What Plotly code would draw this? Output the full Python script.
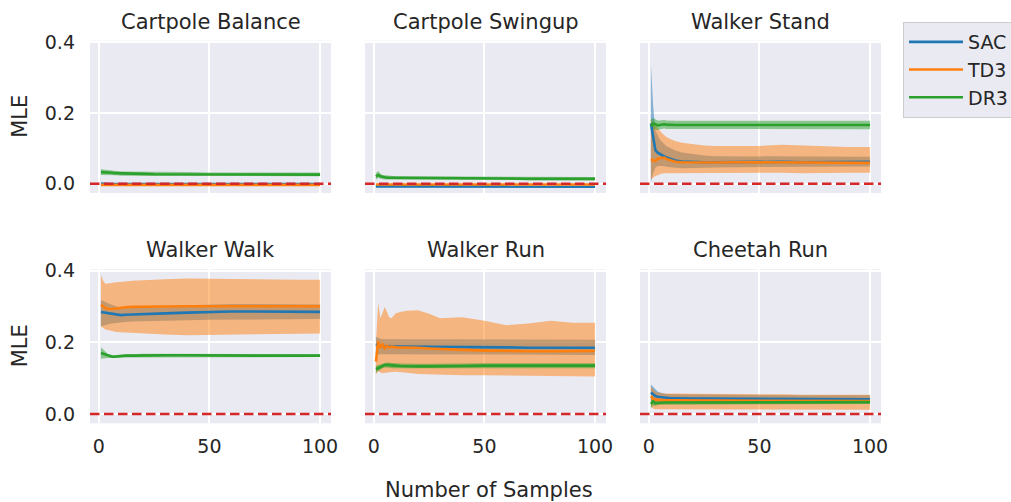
import plotly.graph_objects as go

# ---------------- data ----------------
X = [1, 2, 3, 4, 5, 6, 7, 8, 10, 12, 15, 20, 25, 30, 40, 50, 60, 70, 80, 90, 100]
TITLES = ["Cartpole Balance", "Cartpole Swingup", "Walker Stand",
          "Walker Walk", "Walker Run", "Cheetah Run"]
ALGOS = ["SAC", "TD3", "DR3"]
X_TICKS = [0, 50, 100]
Y_TICKS = [0.0, 0.2, 0.4]
Y_TICK_TEXT = ["0.0", "0.2", "0.4"]
REF_LEVEL = 0.0

# Cartpole Balance
cb_sac_mean = [0.000, -0.001, -0.001, -0.001, -0.001, -0.001, -0.001, -0.001, -0.001, -0.001, -0.001, -0.001, -0.001, -0.001, -0.001, -0.001, -0.001, -0.001, -0.001, -0.001, -0.001]
cb_sac_lo = [-0.004, -0.004, -0.004, -0.004, -0.004, -0.004, -0.004, -0.004, -0.004, -0.004, -0.004, -0.004, -0.004, -0.004, -0.004, -0.004, -0.004, -0.004, -0.004, -0.004, -0.004]
cb_sac_hi = [0.004, 0.003, 0.003, 0.003, 0.002, 0.002, 0.002, 0.002, 0.002, 0.002, 0.002, 0.002, 0.002, 0.002, 0.002, 0.002, 0.002, 0.002, 0.002, 0.002, 0.002]
cb_td3_mean = [-0.003, -0.003, -0.003, -0.003, -0.003, -0.003, -0.003, -0.003, -0.003, -0.003, -0.003, -0.003, -0.003, -0.003, -0.003, -0.003, -0.003, -0.003, -0.003, -0.003, -0.003]
cb_td3_lo = [-0.004, -0.004, -0.004, -0.004, -0.004, -0.004, -0.004, -0.004, -0.004, -0.004, -0.004, -0.004, -0.004, -0.004, -0.004, -0.004, -0.004, -0.004, -0.004, -0.004, -0.004]
cb_td3_hi = [-0.002, -0.002, -0.002, -0.002, -0.002, -0.002, -0.002, -0.002, -0.002, -0.002, -0.002, -0.002, -0.002, -0.002, -0.002, -0.002, -0.002, -0.002, -0.002, -0.002, -0.002]
cb_dr3_mean = [0.033, 0.033, 0.032, 0.032, 0.031, 0.031, 0.030, 0.030, 0.029, 0.029, 0.028, 0.028, 0.027, 0.027, 0.027, 0.027, 0.026, 0.026, 0.026, 0.026, 0.026]
cb_dr3_lo = [0.025, 0.026, 0.026, 0.026, 0.025, 0.025, 0.024, 0.024, 0.023, 0.023, 0.022, 0.022, 0.022, 0.022, 0.022, 0.022, 0.021, 0.021, 0.021, 0.021, 0.021]
cb_dr3_hi = [0.041, 0.040, 0.039, 0.038, 0.037, 0.037, 0.036, 0.036, 0.035, 0.035, 0.034, 0.034, 0.033, 0.033, 0.033, 0.032, 0.032, 0.032, 0.032, 0.032, 0.032]

# Cartpole Swingup
cs_sac_mean = [-0.007, -0.007, -0.008, -0.008, -0.008, -0.008, -0.008, -0.008, -0.008, -0.008, -0.008, -0.008, -0.008, -0.008, -0.008, -0.008, -0.008, -0.008, -0.008, -0.008, -0.008]
cs_sac_lo = [-0.012, -0.012, -0.012, -0.012, -0.012, -0.012, -0.012, -0.012, -0.012, -0.012, -0.012, -0.012, -0.012, -0.012, -0.012, -0.012, -0.012, -0.012, -0.012, -0.012, -0.012]
cs_sac_hi = [-0.002, -0.003, -0.004, -0.004, -0.004, -0.004, -0.004, -0.004, -0.004, -0.004, -0.004, -0.004, -0.004, -0.004, -0.004, -0.004, -0.004, -0.004, -0.004, -0.004, -0.004]
cs_td3_mean = [-0.002, -0.002, -0.002, -0.002, -0.002, -0.002, -0.002, -0.002, -0.002, -0.002, -0.002, -0.002, -0.002, -0.002, -0.002, -0.002, -0.002, -0.002, -0.002, -0.002, -0.002]
cs_td3_lo = [-0.003, -0.003, -0.003, -0.003, -0.003, -0.003, -0.003, -0.003, -0.003, -0.003, -0.003, -0.003, -0.003, -0.003, -0.003, -0.003, -0.003, -0.003, -0.003, -0.003, -0.003]
cs_td3_hi = [-0.001, -0.001, -0.001, -0.001, -0.001, -0.001, -0.001, -0.001, -0.001, -0.001, -0.001, -0.001, -0.001, -0.001, -0.001, -0.001, -0.001, -0.001, -0.001, -0.001, -0.001]
cs_dr3_mean = [0.021, 0.025, 0.021, 0.019, 0.018, 0.017, 0.017, 0.017, 0.016, 0.016, 0.016, 0.016, 0.015, 0.015, 0.015, 0.015, 0.015, 0.014, 0.014, 0.014, 0.014]
cs_dr3_lo = [0.012, 0.016, 0.014, 0.013, 0.012, 0.012, 0.012, 0.012, 0.011, 0.011, 0.011, 0.011, 0.010, 0.010, 0.010, 0.010, 0.010, 0.010, 0.010, 0.010, 0.010]
cs_dr3_hi = [0.030, 0.036, 0.029, 0.025, 0.024, 0.023, 0.022, 0.022, 0.021, 0.021, 0.021, 0.021, 0.020, 0.020, 0.020, 0.020, 0.020, 0.019, 0.019, 0.019, 0.019]

# Walker Stand
ws_sac_mean = [0.170, 0.125, 0.095, 0.088, 0.084, 0.080, 0.077, 0.074, 0.070, 0.066, 0.063, 0.061, 0.061, 0.061, 0.062, 0.062, 0.062, 0.061, 0.061, 0.062, 0.062]
ws_sac_lo = [0.005, 0.030, 0.045, 0.050, 0.052, 0.050, 0.050, 0.048, 0.046, 0.045, 0.044, 0.044, 0.045, 0.046, 0.047, 0.048, 0.048, 0.048, 0.048, 0.049, 0.049]
ws_sac_hi = [0.335, 0.220, 0.150, 0.135, 0.125, 0.118, 0.112, 0.106, 0.100, 0.094, 0.088, 0.083, 0.080, 0.078, 0.078, 0.077, 0.077, 0.076, 0.076, 0.076, 0.076]
ws_td3_mean = [0.070, 0.066, 0.065, 0.070, 0.072, 0.073, 0.074, 0.070, 0.065, 0.062, 0.061, 0.060, 0.060, 0.060, 0.061, 0.061, 0.060, 0.060, 0.059, 0.059, 0.059]
ws_td3_lo = [0.012, 0.018, 0.022, 0.025, 0.027, 0.029, 0.030, 0.031, 0.032, 0.032, 0.032, 0.031, 0.030, 0.030, 0.031, 0.031, 0.031, 0.030, 0.030, 0.031, 0.031]
ws_td3_hi = [0.180, 0.172, 0.165, 0.158, 0.150, 0.143, 0.137, 0.132, 0.126, 0.121, 0.116, 0.112, 0.108, 0.107, 0.106, 0.107, 0.110, 0.108, 0.105, 0.104, 0.104]
ws_dr3_mean = [0.163, 0.170, 0.168, 0.165, 0.166, 0.168, 0.168, 0.167, 0.166, 0.166, 0.166, 0.166, 0.166, 0.165, 0.165, 0.165, 0.166, 0.166, 0.166, 0.166, 0.166]
ws_dr3_lo = [0.148, 0.155, 0.154, 0.152, 0.154, 0.156, 0.156, 0.155, 0.154, 0.154, 0.154, 0.154, 0.154, 0.153, 0.153, 0.153, 0.154, 0.154, 0.154, 0.154, 0.154]
ws_dr3_hi = [0.182, 0.185, 0.182, 0.179, 0.179, 0.180, 0.180, 0.179, 0.178, 0.178, 0.178, 0.178, 0.178, 0.177, 0.177, 0.177, 0.178, 0.178, 0.178, 0.178, 0.178]

# Walker Walk
ww_sac_mean = [0.285, 0.284, 0.283, 0.282, 0.280, 0.278, 0.277, 0.276, 0.276, 0.277, 0.278, 0.279, 0.280, 0.281, 0.283, 0.285, 0.286, 0.286, 0.286, 0.286, 0.285]
ww_sac_lo = [0.245, 0.247, 0.249, 0.250, 0.252, 0.253, 0.254, 0.255, 0.256, 0.257, 0.258, 0.259, 0.260, 0.261, 0.262, 0.263, 0.264, 0.265, 0.265, 0.265, 0.265]
ww_sac_hi = [0.318, 0.316, 0.313, 0.310, 0.307, 0.304, 0.302, 0.300, 0.298, 0.298, 0.299, 0.300, 0.301, 0.302, 0.304, 0.306, 0.307, 0.307, 0.307, 0.307, 0.306]
ww_td3_mean = [0.305, 0.300, 0.296, 0.294, 0.293, 0.293, 0.294, 0.295, 0.297, 0.298, 0.299, 0.300, 0.300, 0.300, 0.301, 0.301, 0.301, 0.301, 0.301, 0.301, 0.301]
ww_td3_lo = [0.244, 0.240, 0.236, 0.234, 0.232, 0.231, 0.230, 0.229, 0.228, 0.227, 0.227, 0.225, 0.223, 0.222, 0.220, 0.221, 0.222, 0.222, 0.223, 0.224, 0.225]
ww_td3_hi = [0.388, 0.372, 0.364, 0.364, 0.365, 0.366, 0.367, 0.368, 0.369, 0.370, 0.372, 0.374, 0.375, 0.376, 0.378, 0.377, 0.377, 0.376, 0.376, 0.375, 0.375]
ww_dr3_mean = [0.170, 0.168, 0.165, 0.162, 0.161, 0.160, 0.160, 0.161, 0.162, 0.163, 0.163, 0.164, 0.164, 0.164, 0.164, 0.163, 0.163, 0.163, 0.163, 0.163, 0.163]
ww_dr3_lo = [0.154, 0.156, 0.156, 0.156, 0.156, 0.156, 0.156, 0.157, 0.158, 0.159, 0.159, 0.160, 0.160, 0.160, 0.160, 0.159, 0.159, 0.159, 0.159, 0.159, 0.159]
ww_dr3_hi = [0.186, 0.180, 0.174, 0.168, 0.166, 0.164, 0.164, 0.165, 0.166, 0.167, 0.167, 0.168, 0.168, 0.168, 0.168, 0.167, 0.167, 0.167, 0.167, 0.167, 0.167]

# Walker Run
wr_sac_mean = [0.195, 0.192, 0.190, 0.189, 0.188, 0.188, 0.188, 0.188, 0.188, 0.188, 0.187, 0.187, 0.186, 0.186, 0.186, 0.186, 0.186, 0.185, 0.185, 0.185, 0.185]
wr_sac_lo = [0.168, 0.167, 0.166, 0.166, 0.166, 0.166, 0.166, 0.166, 0.166, 0.166, 0.166, 0.166, 0.166, 0.165, 0.165, 0.165, 0.165, 0.165, 0.165, 0.165, 0.165]
wr_sac_hi = [0.215, 0.212, 0.210, 0.209, 0.209, 0.209, 0.209, 0.209, 0.208, 0.208, 0.208, 0.208, 0.208, 0.207, 0.207, 0.207, 0.207, 0.207, 0.207, 0.207, 0.207]
wr_td3_mean = [0.146, 0.202, 0.185, 0.194, 0.183, 0.190, 0.186, 0.188, 0.186, 0.186, 0.186, 0.185, 0.183, 0.181, 0.179, 0.177, 0.175, 0.175, 0.175, 0.175, 0.176]
wr_td3_lo = [0.110, 0.120, 0.116, 0.114, 0.114, 0.115, 0.116, 0.117, 0.118, 0.117, 0.115, 0.112, 0.110, 0.109, 0.108, 0.108, 0.107, 0.107, 0.106, 0.106, 0.105]
wr_td3_hi = [0.200, 0.310, 0.267, 0.285, 0.299, 0.285, 0.270, 0.267, 0.281, 0.285, 0.288, 0.290, 0.280, 0.267, 0.270, 0.260, 0.248, 0.253, 0.260, 0.255, 0.255]
wr_dr3_mean = [0.125, 0.128, 0.132, 0.135, 0.137, 0.137, 0.136, 0.135, 0.135, 0.134, 0.133, 0.133, 0.133, 0.134, 0.134, 0.135, 0.135, 0.135, 0.135, 0.135, 0.135]
wr_dr3_lo = [0.115, 0.119, 0.124, 0.128, 0.130, 0.130, 0.129, 0.128, 0.128, 0.127, 0.126, 0.126, 0.126, 0.127, 0.127, 0.128, 0.128, 0.128, 0.128, 0.128, 0.128]
wr_dr3_hi = [0.135, 0.137, 0.140, 0.142, 0.144, 0.144, 0.143, 0.142, 0.142, 0.141, 0.140, 0.140, 0.140, 0.141, 0.141, 0.142, 0.142, 0.142, 0.142, 0.142, 0.142]

# Cheetah Run
cr_sac_mean = [0.060, 0.055, 0.050, 0.048, 0.047, 0.046, 0.045, 0.045, 0.044, 0.044, 0.043, 0.043, 0.043, 0.043, 0.042, 0.042, 0.042, 0.042, 0.041, 0.041, 0.041]
cr_sac_lo = [0.038, 0.036, 0.035, 0.034, 0.034, 0.034, 0.033, 0.033, 0.033, 0.033, 0.033, 0.033, 0.033, 0.033, 0.032, 0.032, 0.032, 0.032, 0.032, 0.032, 0.032]
cr_sac_hi = [0.082, 0.075, 0.068, 0.063, 0.060, 0.058, 0.057, 0.056, 0.055, 0.055, 0.054, 0.054, 0.054, 0.054, 0.053, 0.053, 0.053, 0.052, 0.052, 0.052, 0.052]
cr_td3_mean = [0.050, 0.042, 0.040, 0.039, 0.039, 0.038, 0.038, 0.038, 0.038, 0.038, 0.037, 0.037, 0.037, 0.037, 0.037, 0.037, 0.036, 0.036, 0.036, 0.036, 0.036]
cr_td3_lo = [0.020, 0.015, 0.013, 0.013, 0.013, 0.013, 0.013, 0.013, 0.013, 0.013, 0.013, 0.013, 0.013, 0.013, 0.013, 0.013, 0.013, 0.012, 0.012, 0.012, 0.012]
cr_td3_hi = [0.076, 0.068, 0.062, 0.060, 0.058, 0.058, 0.057, 0.057, 0.057, 0.056, 0.056, 0.056, 0.056, 0.055, 0.055, 0.055, 0.055, 0.054, 0.054, 0.054, 0.054]
cr_dr3_mean = [0.028, 0.035, 0.030, 0.031, 0.032, 0.032, 0.032, 0.032, 0.032, 0.032, 0.032, 0.032, 0.032, 0.032, 0.033, 0.033, 0.033, 0.033, 0.033, 0.033, 0.033]
cr_dr3_lo = [0.016, 0.024, 0.023, 0.025, 0.026, 0.027, 0.027, 0.027, 0.027, 0.027, 0.027, 0.027, 0.027, 0.027, 0.028, 0.028, 0.028, 0.028, 0.028, 0.028, 0.028]
cr_dr3_hi = [0.040, 0.046, 0.038, 0.037, 0.038, 0.037, 0.037, 0.037, 0.037, 0.037, 0.037, 0.037, 0.037, 0.037, 0.038, 0.038, 0.038, 0.038, 0.038, 0.038, 0.038]

PANEL_DATA = [
    [(cb_sac_mean, cb_sac_lo, cb_sac_hi), (cb_td3_mean, cb_td3_lo, cb_td3_hi), (cb_dr3_mean, cb_dr3_lo, cb_dr3_hi)],
    [(cs_sac_mean, cs_sac_lo, cs_sac_hi), (cs_td3_mean, cs_td3_lo, cs_td3_hi), (cs_dr3_mean, cs_dr3_lo, cs_dr3_hi)],
    [(ws_sac_mean, ws_sac_lo, ws_sac_hi), (ws_td3_mean, ws_td3_lo, ws_td3_hi), (ws_dr3_mean, ws_dr3_lo, ws_dr3_hi)],
    [(ww_sac_mean, ww_sac_lo, ww_sac_hi), (ww_td3_mean, ww_td3_lo, ww_td3_hi), (ww_dr3_mean, ww_dr3_lo, ww_dr3_hi)],
    [(wr_sac_mean, wr_sac_lo, wr_sac_hi), (wr_td3_mean, wr_td3_lo, wr_td3_hi), (wr_dr3_mean, wr_dr3_lo, wr_dr3_hi)],
    [(cr_sac_mean, cr_sac_lo, cr_sac_hi), (cr_td3_mean, cr_td3_lo, cr_td3_hi), (cr_dr3_mean, cr_dr3_lo, cr_dr3_hi)],
]

# ---------------- style ----------------
W, H = 1011, 502
COLORS = ["#1f77b4", "#ff7f0e", "#2ca02c"]
BANDS = ["rgba(31,119,180,0.5)", "rgba(255,127,14,0.5)", "rgba(44,160,44,0.5)"]
RED = "#d62728"
TXT = "#262626"
FONT = "DejaVu Sans"
BG = "#eaeaf2"

COLS_PX = [(90, 331), (365, 606), (640, 881)]
ROWS_PX = [(40.7, 193.0), (269.3, 423.3)]
XR = [-3.95, 104.95]
YR = [-0.026, 0.404]


def px_x(p):
    return p / W


def px_y(p):
    return 1 - p / H


fig = go.Figure()
layout = dict()
shapes = []
annotations = []

for i in range(6):
    r, c = divmod(i, 3)
    n = i + 1
    sfx = "" if n == 1 else str(n)
    xa, ya = "x" + sfx, "y" + sfx
    # bands first (under lines)
    for k in range(3):
        mean, lo, hi = PANEL_DATA[i][k]
        fig.add_trace(go.Scatter(
            x=X + X[::-1], y=hi + lo[::-1], fill="toself", fillcolor=BANDS[k],
            line=dict(width=0), mode="lines", hoverinfo="skip", showlegend=False,
            xaxis=xa, yaxis=ya))
    for k in range(3):
        mean, lo, hi = PANEL_DATA[i][k]
        fig.add_trace(go.Scatter(
            x=X, y=mean, mode="lines", line=dict(color=COLORS[k], width=2.6),
            name=ALGOS[k], legendgroup=ALGOS[k], showlegend=(i == 0),
            xaxis=xa, yaxis=ya))
    x0, x1 = COLS_PX[c]
    y0, y1 = ROWS_PX[r]
    layout["xaxis" + sfx] = dict(
        domain=[px_x(x0), px_x(x1)], range=XR, anchor=ya,
        tickvals=X_TICKS, showticklabels=(r == 1), ticks="",
        ticklabelstandoff=10,
        showgrid=True, gridcolor="white", gridwidth=1.75, zeroline=False,
        showline=False, tickfont=dict(size=19, color=TXT, family=FONT))
    layout["yaxis" + sfx] = dict(
        domain=[px_y(y1), px_y(y0)], range=YR, anchor=xa,
        tickvals=Y_TICKS, ticktext=Y_TICK_TEXT, showticklabels=(c == 0), ticks="",
        ticklabelstandoff=14,
        showgrid=True, gridcolor="white", gridwidth=1.75, zeroline=False,
        showline=False, tickfont=dict(size=19, color=TXT, family=FONT))
    shapes.append(dict(type="line", xref=xa + " domain", yref=ya, x0=0, x1=1,
                       y0=REF_LEVEL, y1=REF_LEVEL, layer="above",
                       line=dict(color=RED, width=2.6, dash="9.5px,4.5px")))
    annotations.append(dict(text=TITLES[i], xref="paper", yref="paper",
                            x=px_x((x0 + x1) / 2), y=px_y(y0 - 5),
                            xanchor="center", yanchor="bottom", showarrow=False,
                            font=dict(size=21, color=TXT, family=FONT)))

for (y0, y1) in ROWS_PX:
    annotations.append(dict(text="MLE", xref="paper", yref="paper",
                            x=px_x(20), y=px_y((y0 + y1) / 2), textangle=-90,
                            xanchor="center", yanchor="middle", showarrow=False,
                            font=dict(size=21, color=TXT, family=FONT)))
annotations.append(dict(text="Number of Samples", xref="paper", yref="paper",
                        x=px_x(489), y=px_y(490), xanchor="center", yanchor="middle",
                        showarrow=False, font=dict(size=21, color=TXT, family=FONT)))

fig.update_layout(
    width=W, height=H,
    margin=dict(l=0, r=0, t=0, b=0, autoexpand=False),
    paper_bgcolor="white", plot_bgcolor=BG,
    font=dict(family=FONT, color=TXT),
    shapes=shapes, annotations=annotations,
    legend=dict(x=px_x(903), y=px_y(22), xanchor="left", yanchor="top",
                bgcolor=BG, bordercolor="#cccccc", borderwidth=1,
                font=dict(size=19, color=TXT, family=FONT),
                traceorder="grouped", tracegroupgap=0, itemwidth=54),
    **layout,
)

fig.write_html("out.html")
